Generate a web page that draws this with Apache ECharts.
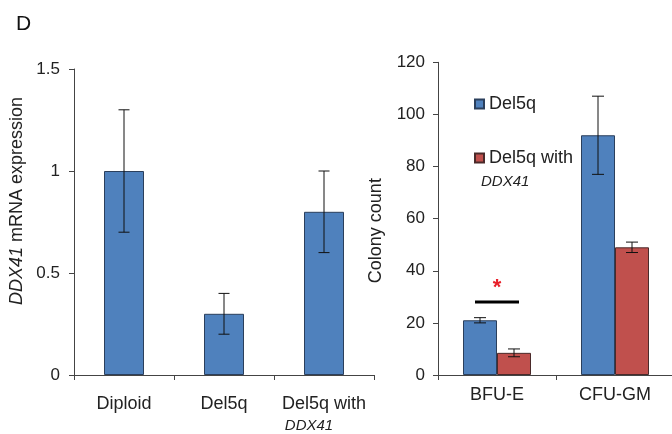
<!DOCTYPE html>
<html>
<head>
<meta charset="utf-8">
<script src="https://cdn.jsdelivr.net/npm/echarts@6/dist/echarts.min.js"></script>
<style>
  html, body { margin: 0; padding: 0; background: #fff; }
  #chart { width: 672px; height: 434px; }
</style>
</head>
<body>
<div id="chart"></div>
<script>
// 左图：DDX41 表达
const exprCategories = ['Diploid', 'Del5q', 'Del5q with DDX41'];
const exprValues = [1.0, 0.3, 0.8];
const exprLow = [0.7, 0.2, 0.6];
const exprHigh = [1.3, 0.4, 1.0];
const exprTicks = [0, 0.5, 1, 1.5];

// 右图：集落计数
const colonyCategories = ['BFU-E', 'CFU-GM'];
const del5qCount = [21, 92];
const del5qLow = [20, 77];
const del5qHigh = [22, 107];
const ddx41Count = [8.5, 49];
const ddx41Low = [7, 47];
const ddx41High = [10, 51];
const colonyTicks = [0, 20, 40, 60, 80, 100, 120];
const sigLevel = [[0, 28]]; // BFU-E 显著性标记

const FONT = 'Liberation Sans';
const BLUE = '#4f81bd';
const RED = '#c0504d';

const chart = echarts.init(document.getElementById('chart'));

// 误差线
function errorBar(offset, cap) {
  return function (params, api) {
    const x = api.coord([api.value(0), 0])[0] + offset;
    const hi = api.coord([api.value(0), api.value(2)])[1];
    const lo = api.coord([api.value(0), api.value(1)])[1];
    const style = { stroke: '#111', lineWidth: 1 };
    return {
      type: 'group',
      children: [
        { type: 'line', shape: { x1: x, y1: hi, x2: x, y2: lo }, style: style },
        { type: 'line', shape: { x1: x - cap, y1: hi, x2: x + cap, y2: hi }, style: style },
        { type: 'line', shape: { x1: x - cap, y1: lo, x2: x + cap, y2: lo }, style: style }
      ]
    };
  };
}

function toErr(low, high) {
  return low.map(function (v, i) { return [i, v, high[i]]; });
}

const axisLine = { lineStyle: { color: '#444', width: 1 } };

let option = {
  animation: false,
  title: {
    text: 'D', left: 11, top: 9,
    textStyle: { fontFamily: FONT, fontSize: 21, fontWeight: 'normal', color: '#111' }
  },
  legend: {
    orient: 'vertical',
    left: 469, top: 90,
    itemWidth: 9, itemHeight: 9, itemGap: 36,
    icon: 'rect',
    data: ['Del5q', 'Del5q with DDX41'],
    formatter: function (name) { return name === 'Del5q' ? name : 'Del5q with'; },
    textStyle: { fontFamily: FONT, fontSize: 18, color: '#222' }
  },
  graphic: [{
    type: 'text', left: 481, top: 174,
    style: { text: 'DDX41', font: 'italic 15px "Liberation Sans"', fill: '#222' }
  }],
  grid: [
    { left: 74, top: 69, width: 300, height: 306, outerBoundsMode: 'none' },
    { left: 438, top: 62.3, width: 236, height: 312.7, outerBoundsMode: 'none' }
  ],
  xAxis: [
    {
      type: 'category', gridIndex: 0, data: exprCategories,
      axisLine: axisLine,
      axisTick: { show: true, length: 5, lineStyle: { color: '#444' } },
      axisLabel: {
        interval: 0, margin: 18, fontFamily: FONT, fontSize: 18, color: '#222', lineHeight: 22,
        formatter: function (v) { return v === 'Del5q with DDX41' ? 'Del5q with\n{i|DDX41}' : v; },
        rich: { i: { fontFamily: FONT, fontStyle: 'italic', fontSize: 15, lineHeight: 22, padding: [0, 30, 0, 0], color: '#222' } }
      }
    },
    {
      type: 'category', gridIndex: 1, data: colonyCategories,
      axisLine: axisLine,
      axisTick: { show: true, length: 5, lineStyle: { color: '#444' } },
      axisLabel: { interval: 0, margin: 11, fontFamily: FONT, fontSize: 18, color: '#222' }
    }
  ],
  yAxis: [
    {
      type: 'value', gridIndex: 0,
      min: exprTicks[0], max: exprTicks[exprTicks.length - 1], interval: 0.5,
      axisLine: { show: true, lineStyle: { color: '#444', width: 1 } },
      axisTick: { show: true, length: 5, lineStyle: { color: '#444' } },
      splitLine: { show: false },
      axisLabel: { margin: 14, fontFamily: FONT, fontSize: 17, color: '#222' },
      name: '{i|DDX41} mRNA expression',
      nameLocation: 'middle', nameGap: 48, nameRotate: 90,
      nameTextStyle: {
        fontFamily: FONT, fontSize: 18, color: '#222', padding: [0, 0, 0, 42],
        rich: { i: { fontFamily: FONT, fontSize: 18, fontStyle: 'italic', color: '#222' } }
      }
    },
    {
      type: 'value', gridIndex: 1,
      min: colonyTicks[0], max: colonyTicks[colonyTicks.length - 1], interval: 20,
      axisLine: { show: true, lineStyle: { color: '#444', width: 1 } },
      axisTick: { show: true, length: 5, lineStyle: { color: '#444' } },
      splitLine: { show: false },
      axisLabel: { margin: 13, fontFamily: FONT, fontSize: 17, color: '#222' },
      name: 'Colony count',
      nameLocation: 'middle', nameGap: 53, nameRotate: 90,
      nameTextStyle: { fontFamily: FONT, fontSize: 18, color: '#222', padding: [0, 24, 0, 0] }
    }
  ],
  series: [
    {
      name: 'Expression', type: 'bar', xAxisIndex: 0, yAxisIndex: 0,
      data: exprValues, barWidth: 40,
      itemStyle: { color: BLUE, borderColor: '#2b3f5c', borderWidth: 1 }
    },
    {
      type: 'custom', xAxisIndex: 0, yAxisIndex: 0, z: 10,
      renderItem: errorBar(0, 5.5), data: toErr(exprLow, exprHigh)
    },
    {
      name: 'Del5q', type: 'bar', xAxisIndex: 1, yAxisIndex: 1,
      data: del5qCount, barWidth: 34, barGap: '0%',
      itemStyle: { color: BLUE, borderColor: '#2b3f5c', borderWidth: 1 }
    },
    {
      name: 'Del5q with DDX41', type: 'bar', xAxisIndex: 1, yAxisIndex: 1,
      data: ddx41Count, barWidth: 34, barGap: '0%',
      itemStyle: { color: RED, borderColor: '#4a2a2a', borderWidth: 1 }
    },
    {
      type: 'custom', xAxisIndex: 1, yAxisIndex: 1, z: 10,
      renderItem: errorBar(-17, 6), data: toErr(del5qLow, del5qHigh)
    },
    {
      type: 'custom', xAxisIndex: 1, yAxisIndex: 1, z: 10,
      renderItem: errorBar(17, 6), data: toErr(ddx41Low, ddx41High)
    },
    {
      // 显著性横线和星号
      type: 'custom', xAxisIndex: 1, yAxisIndex: 1, z: 10,
      data: sigLevel,
      renderItem: function (params, api) {
        const p = api.coord([api.value(0), api.value(1)]);
        return {
          type: 'group',
          children: [
            { type: 'line', shape: { x1: p[0] - 22, y1: p[1], x2: p[0] + 22, y2: p[1] },
              style: { stroke: '#000', lineWidth: 3 } },
            { type: 'text', x: p[0], y: p[1] - 14,
              style: { text: '*', fill: '#e8202a', font: 'bold 22px "Liberation Sans"', align: 'center', verticalAlign: 'middle' } }
          ]
        };
      }
    }
  ]
};

chart.setOption(option);
window.addEventListener('resize', function () {
  chart.resize();
});
</script>
</body>
</html>
